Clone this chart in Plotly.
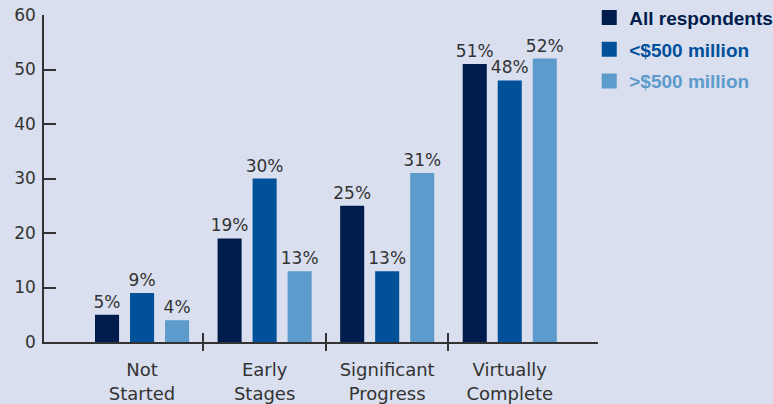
import plotly.graph_objects as go

categories = ["Not<br>Started", "Early<br>Stages", "Significant<br>Progress", "Virtually<br>Complete"]
series_names = ["All respondents", "<$500 million", ">$500 million"]
all_resp = [5, 19, 25, 51]
under_500 = [9, 30, 13, 48]
over_500 = [4, 13, 31, 52]
colors = ["#001c4c", "#00509a", "#5d9bcc"]
y_ticks = [0, 10, 20, 30, 40, 50, 60]

series_values = [all_resp, under_500, over_500]
xpos = list(range(len(categories)))
boundaries = [0.5, 1.5, 2.5]
x_range = [-0.8, 3.72]

BG = "#d9dfef"
AX = "#333333"
FONT = "DejaVu Sans, Verdana, sans-serif"
LFONT = "Liberation Sans, Arial, sans-serif"

fig = go.Figure()
for name, vals, col in zip(series_names, series_values, colors):
    fig.add_trace(go.Bar(
        x=xpos, y=vals, name=name, marker=dict(color=col, line=dict(width=0)),
        text=[f"{v}%" for v in vals], textposition="outside", constraintext="none",
        textfont=dict(size=17, color="#333333", family=FONT),
        cliponaxis=False, showlegend=False,
    ))

# legend entries
for i, (name, col) in enumerate(zip(series_names, colors)):
    safe = name.replace("<", "&lt;").replace(">", "&gt;")
    fig.add_trace(go.Scatter(
        x=[None], y=[None], mode="markers",
        marker=dict(symbol="square", size=15, color=col),
        name=f"<b><span style='color:{col}'>{safe}</span></b>",
        legendgroup=f"g{i}", showlegend=True,
    ))

# overlay axes for crossing boundary ticks
fig.add_trace(go.Scatter(x=[None], y=[None], xaxis="x2", showlegend=False, hoverinfo="skip"))
fig.add_trace(go.Scatter(x=[None], y=[None], xaxis="x3", showlegend=False, hoverinfo="skip"))

fig.update_layout(
    width=773, height=404,
    margin=dict(l=44, r=175, t=15, b=62, pad=0, autoexpand=False),
    paper_bgcolor=BG, plot_bgcolor=BG,
    font=dict(family=FONT, size=17, color=AX),
    barmode="group", bargap=0.143, bargroupgap=0.313,
    xaxis=dict(
        range=x_range, tickmode="array", tickvals=xpos, ticktext=categories,
        ticks="", showgrid=False, zeroline=False,
        showline=True, linecolor=AX, linewidth=1.5,
        tickfont=dict(size=18, color=AX, family=FONT), ticklabelstandoff=11, automargin=False,
    ),
    xaxis2=dict(
        overlaying="x", anchor="y", range=x_range, tickmode="array",
        tickvals=boundaries, ticks="outside", ticklen=8, tickwidth=1.5, tickcolor=AX,
        showticklabels=False, showgrid=False, zeroline=False, showline=False,
    ),
    xaxis3=dict(
        overlaying="x", anchor="y", range=x_range, tickmode="array",
        tickvals=boundaries + [x_range[1] - 0.004], ticks="inside", ticklen=9, tickwidth=1.5, tickcolor=AX,
        showticklabels=False, showgrid=False, zeroline=False, showline=False,
    ),
    yaxis=dict(
        range=[0, 60], tickmode="array", tickvals=y_ticks,
        ticks="inside", ticklen=12, tickwidth=1.5, tickcolor=AX,
        showline=True, linecolor=AX, linewidth=1.5,
        showgrid=False, zeroline=False, automargin=False,
        tickfont=dict(size=17, color=AX, family=FONT), ticklabelstandoff=3,
    ),
    legend=dict(
        x=0.9842, y=1.05, xanchor="left", yanchor="top",
        bgcolor="rgba(0,0,0,0)", font=dict(size=19, family=LFONT),
        itemwidth=30, tracegroupgap=4, traceorder="grouped",
    ),
    showlegend=True,
)

fig.write_html("out.html")
